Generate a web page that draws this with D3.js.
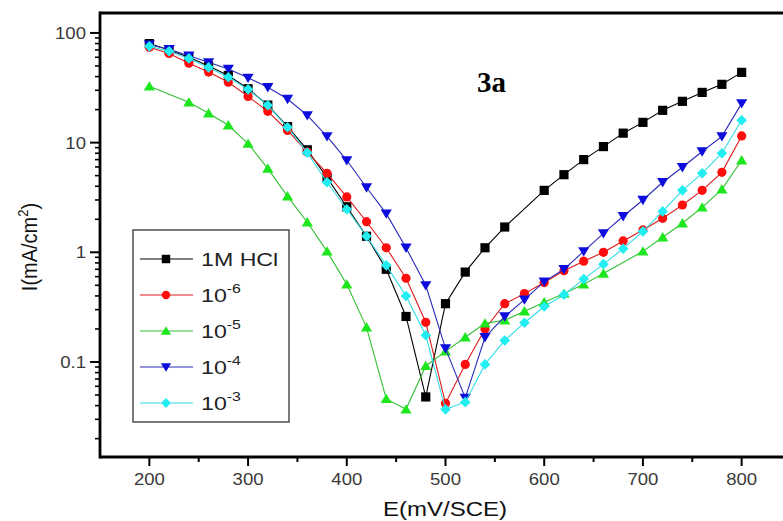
<!DOCTYPE html>
<html>
<head>
<meta charset="utf-8">
<script src="https://cdn.jsdelivr.net/npm/d3@7"></script>
<style>
  html, body { margin: 0; padding: 0; background: #fff; }
  svg { display: block; }
  text { font-family: "Liberation Sans", Arial, sans-serif; }
  text.serif { font-family: "Liberation Serif", "Times New Roman", serif; }
</style>
</head>
<body>
<svg id="chart" width="783" height="521"></svg>
<script>
// ---------------- data ----------------
const seriesNames = ["1M HCl", "10^-6", "10^-5", "10^-4", "10^-3"];

const eHCl = [200,220,240,260,280,300,320,340,360,380,400,420,440,460,480,500,520,540,560,600,620,640,660,680,700,720,740,760,780,800];
const iHCl = [80,70,60,50,41,31,22,14,8.6,4.8,2.6,1.4,0.7,0.26,0.048,0.34,0.66,1.1,1.7,3.67,5.1,7.0,9.2,12.2,15.3,19.7,23.8,28.7,34,43.7];

const e1e6 = [200,220,240,260,280,300,320,340,360,380,400,420,440,460,480,500,520,540,560,580,600,620,640,660,680,700,720,740,760,780,800];
const i1e6 = [74,65,53,44,35.5,26.4,19.3,12.9,8.2,5.25,3.2,1.9,1.1,0.58,0.23,0.042,0.095,0.2,0.34,0.42,0.53,0.68,0.83,1.0,1.27,1.6,2.04,2.7,3.67,5.36,11.5];

const e1e5 = [200,240,260,280,300,320,340,360,380,400,420,440,460,480,500,520,540,560,580,600,620,640,660,700,720,740,760,780,800];
const i1e5 = [32.6,23.3,18.5,14.4,9.8,5.8,3.24,1.88,1.02,0.51,0.207,0.046,0.037,0.092,0.125,0.168,0.225,0.24,0.29,0.35,0.42,0.51,0.64,1.02,1.37,1.84,2.57,3.75,6.9];

const e1e4 = [200,220,240,260,280,300,320,340,360,380,400,420,440,460,480,500,520,540,560,580,600,620,640,660,680,700,720,740,760,780,800];
const i1e4 = [78,71,62,54,47,39,32,25,17.7,11.4,6.9,3.9,2.25,1.1,0.5,0.133,0.047,0.168,0.26,0.37,0.54,0.70,1.02,1.49,2.13,3.0,4.35,5.96,8.3,11.4,22.8];

const e1e3 = [200,220,240,260,280,300,320,340,360,380,400,420,440,460,480,500,520,540,560,580,600,620,640,660,680,700,720,740,760,780,800];
const i1e3 = [75.5,68,58.6,48.5,39.4,30.6,21.9,13.8,8.1,4.35,2.47,1.4,0.76,0.40,0.175,0.037,0.043,0.095,0.157,0.228,0.32,0.41,0.57,0.78,1.08,1.55,2.36,3.67,5.25,8.0,16];

const xMajorTicks = [200,300,400,500,600,700,800];
const xMinorTicks = [250,350,450,550,650,750];
const yMajorTicks = [100,10,1,0.1];
const yMajorLabels = ["100","10","1","0.1"];
const yMinorTicks = [0.02,0.03,0.04,0.05,0.06,0.07,0.08,0.09,0.2,0.3,0.4,0.5,0.6,0.7,0.8,0.9,2,3,4,5,6,7,8,9,20,30,40,50,60,70,80,90];

const xTitle = "E(mV/SCE)";
const panelLabel = "3a";

// ---------------- layout ----------------
const svg = d3.select("#chart");
const pLeft = 100, pRight = 791, pTop = 13, pBottom = 457;

const x = d3.scaleLinear().domain([150, 850]).range([pLeft, pRight]);
const y = d3.scaleLog().domain([0.0136, 152]).range([pBottom, pTop]);

const series = [
  {name: seriesNames[0], e: eHCl, i: iHCl, color: "#000000", line: "#000000", shape: "square"},
  {name: seriesNames[1], e: e1e6, i: i1e6, color: "#ff0d0d", line: "#e01818", shape: "circle"},
  {name: seriesNames[2], e: e1e5, i: i1e5, color: "#1ee61e", line: "#33c033", shape: "triUp"},
  {name: seriesNames[3], e: e1e4, i: i1e4, color: "#0c0cdc", line: "#2a2ab8", shape: "triDown"},
  {name: seriesNames[4], e: e1e3, i: i1e3, color: "#22eef2", line: "#30dde6", shape: "diamond"}
];

function shapePath(shape, s) {
  switch (shape) {
    case "square": { const h = 4.6*s; return `M${-h},${-h}H${h}V${h}H${-h}Z`; }
    case "circle": { const r = 4.6*s; return `M${r},0A${r},${r} 0 1,1 ${-r},0A${r},${r} 0 1,1 ${r},0Z`; }
    case "triUp": { const w = 5.6*s, h = 5.2*s; return `M0,${-h}L${w},${h*0.8}L${-w},${h*0.8}Z`; }
    case "triDown": { const w = 5.6*s, h = 5.2*s; return `M0,${h}L${w},${-h*0.8}L${-w},${-h*0.8}Z`; }
    case "diamond": { const w = 5.3*s, h = 5.3*s; return `M0,${-h}L${w},0L0,${h}L${-w},0Z`; }
  }
}

// ---------------- series ----------------
const plot = svg.append("g");
const lineGen = d3.line().x(d => x(d[0])).y(d => y(d[1]));

series.forEach(s => {
  const pts = s.e.map((e, k) => [e, s.i[k]]);
  plot.append("path")
    .attr("d", lineGen(pts))
    .attr("fill", "none")
    .attr("stroke", s.line)
    .attr("stroke-width", 1.1);
  plot.selectAll(null).data(pts).enter().append("path")
    .attr("d", shapePath(s.shape, 1))
    .attr("transform", d => `translate(${x(d[0])},${y(d[1])})`)
    .attr("fill", s.color);
});

// ---------------- axes ----------------
const axes = svg.append("g");
axes.append("line").attr("x1", pLeft).attr("x2", 800).attr("y1", pTop).attr("y2", pTop)
  .attr("stroke", "#000").attr("stroke-width", 2.8);
axes.append("line").attr("x1", pLeft).attr("x2", pLeft).attr("y1", pTop - 1.4).attr("y2", pBottom + 1.4)
  .attr("stroke", "#000").attr("stroke-width", 2.8);
axes.append("line").attr("x1", pLeft).attr("x2", 800).attr("y1", pBottom).attr("y2", pBottom)
  .attr("stroke", "#000").attr("stroke-width", 2.8);

xMajorTicks.forEach(v => {
  axes.append("line").attr("x1", x(v)).attr("x2", x(v)).attr("y1", pBottom).attr("y2", pBottom + 9)
    .attr("stroke", "#000").attr("stroke-width", 2);
});
xMinorTicks.forEach(v => {
  axes.append("line").attr("x1", x(v)).attr("x2", x(v)).attr("y1", pBottom).attr("y2", pBottom + 5)
    .attr("stroke", "#000").attr("stroke-width", 2);
});
yMajorTicks.forEach(v => {
  axes.append("line").attr("x1", pLeft - 10).attr("x2", pLeft).attr("y1", y(v)).attr("y2", y(v))
    .attr("stroke", "#000").attr("stroke-width", 2);
});
yMinorTicks.forEach(v => {
  axes.append("line").attr("x1", pLeft - 5).attr("x2", pLeft).attr("y1", y(v)).attr("y2", y(v))
    .attr("stroke", "#000").attr("stroke-width", 1.6);
});

function stretchedText(g, px, py, str, size, sx, anchor, color) {
  return g.append("text")
    .attr("transform", `translate(${px},${py}) scale(${sx},1)`)
    .attr("text-anchor", anchor)
    .attr("font-size", size)
    .attr("fill", color)
    .text(str);
}

xMajorTicks.forEach(v => {
  stretchedText(axes, x(v), 485, String(v), 16, 1.16, "middle", "#3a3a3a");
});
yMajorTicks.forEach((v, k) => {
  stretchedText(axes, 86, y(v) + 6, yMajorLabels[k], 16, 1.16, "end", "#3a3a3a");
});

stretchedText(svg, 445, 516, xTitle, 20, 1.2, "middle", "#111");

const yt = svg.append("text")
  .attr("transform", "translate(37,247) scale(1.12,1) rotate(-90)")
  .attr("text-anchor", "middle")
  .attr("font-size", 20)
  .attr("fill", "#111");
yt.append("tspan").text("I(mA/cm");
yt.append("tspan").attr("font-size", 13).attr("dy", -8).text("2");
yt.append("tspan").attr("dy", 8).text(")");

svg.append("text")
  .attr("class", "serif")
  .attr("x", 477).attr("y", 92)
  .attr("font-weight", "bold")
  .attr("font-size", 29)
  .attr("fill", "#000")
  .text(panelLabel);

// ---------------- legend ----------------
const lg = svg.append("g");
lg.append("rect").attr("x", 133).attr("y", 230).attr("width", 156).attr("height", 192)
  .attr("fill", "#fff").attr("stroke", "#333").attr("stroke-width", 1.3);

const legendY0 = 259, legendDy = 36;
series.forEach((s, k) => {
  const cy = legendY0 + k * legendDy;
  lg.append("line").attr("x1", 140).attr("x2", 193).attr("y1", cy).attr("y2", cy)
    .attr("stroke", s.line).attr("stroke-width", 1.1);
  lg.append("path").attr("d", shapePath(s.shape, 0.92))
    .attr("transform", `translate(166,${cy})`).attr("fill", s.color);
  const t = lg.append("text")
    .attr("transform", `translate(201,${cy + 7}) scale(1.22,1)`)
    .attr("font-size", 19)
    .attr("fill", "#222");
  if (s.name.indexOf("^") >= 0) {
    const parts = s.name.split("^");
    t.append("tspan").text(parts[0]);
    t.append("tspan").attr("font-size", 13).attr("dy", -9).text(parts[1]);
  } else {
    t.text(s.name);
  }
});
</script>
</body>
</html>
